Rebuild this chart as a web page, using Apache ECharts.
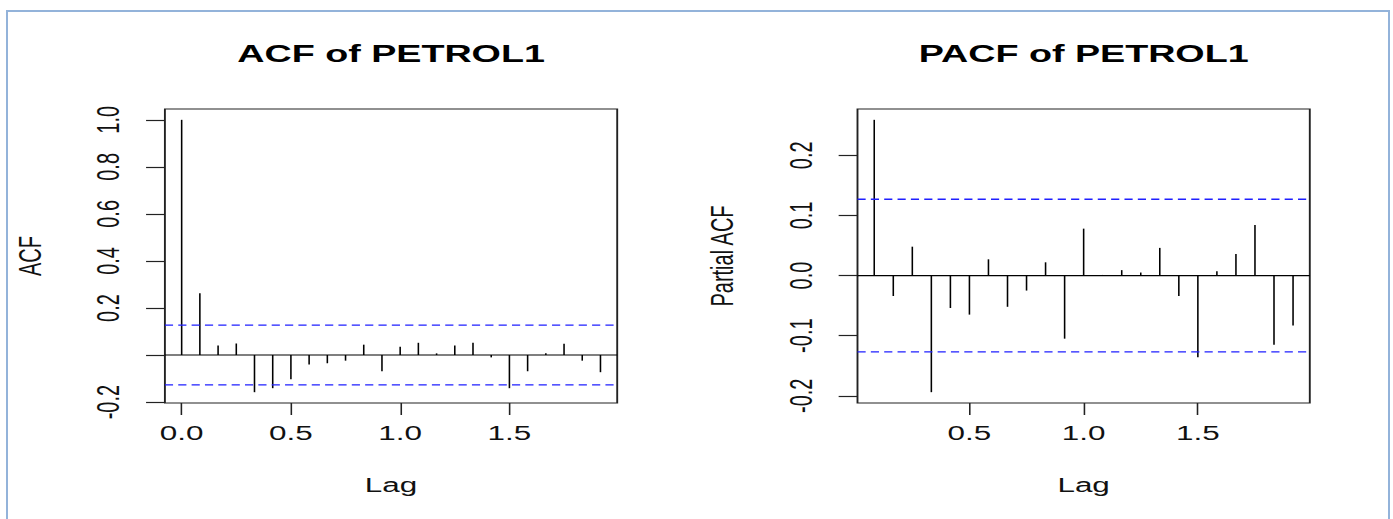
<!DOCTYPE html>
<html>
<head>
<meta charset="utf-8">
<script src="https://cdn.jsdelivr.net/npm/echarts@6/dist/echarts.min.js"></script>
<style>
  html, body { margin: 0; padding: 0; background: #ffffff; overflow: hidden; }
  #frame { position: absolute; left: 6px; top: 10px; width: 1380px; height: 520px;
           border-top: 2px solid #93b3da; border-left: 2px solid #93b3da; border-right: 2px solid #93b3da; }
  /* the reference is an R plot stretched horizontally; reproduce by scaling the chart box */
  #main { position: absolute; left: 0; top: 0; width: 887px; height: 519px;
          transform: scaleX(1.5705); transform-origin: 0 0; }
</style>
</head>
<body>
<div id="frame"></div>
<div id="main"></div>
<script>
// ---- data ----
const acfLags = [0.0000, 0.0833, 0.1667, 0.2500, 0.3333, 0.4167, 0.5000, 0.5833, 0.6667, 0.7500, 0.8333, 0.9167,
                 1.0000, 1.0833, 1.1667, 1.2500, 1.3333, 1.4167, 1.5000, 1.5833, 1.6667, 1.7500, 1.8333, 1.9167];
const acfValues = [1.000, 0.263, 0.040, 0.049, -0.158, -0.141, -0.103, -0.040, -0.035, -0.024, 0.044, -0.069,
                   0.035, 0.052, 0.007, 0.040, 0.052, -0.010, -0.141, -0.069, 0.007, 0.048, -0.024, -0.073];
const pacfLags = [0.0833, 0.1667, 0.2500, 0.3333, 0.4167, 0.5000, 0.5833, 0.6667, 0.7500, 0.8333, 0.9167,
                  1.0000, 1.0833, 1.1667, 1.2500, 1.3333, 1.4167, 1.5000, 1.5833, 1.6667, 1.7500, 1.8333, 1.9167];
const pacfValues = [0.259, -0.034, 0.048, -0.194, -0.054, -0.065, 0.027, -0.052, -0.025, 0.022, -0.105,
                    0.078, 0.001, 0.009, 0.005, 0.046, -0.034, -0.136, 0.007, 0.036, 0.084, -0.115, -0.083];
const ciBound = 0.127;

const acfXRange = [-0.0767, 1.9933];
const acfYRange = [-0.204, 1.046];
const pacfXRange = [0.0100, 1.9900];
const pacfYRange = [-0.212, 0.277];

const acfXTicks = [0, 0.5, 1.0, 1.5];
const acfXLabels = ['0.0', '0.5', '1.0', '1.5'];
const acfYTicks = [-0.2, 0, 0.2, 0.4, 0.6, 0.8, 1.0];
const acfYLabels = ['-0.2', '', '0.2', '0.4', '0.6', '0.8', '1.0'];
const pacfXTicks = [0.5, 1.0, 1.5];
const pacfXLabels = ['0.5', '1.0', '1.5'];
const pacfYTicks = [-0.2, -0.1, 0, 0.1, 0.2];
const pacfYLabels = ['-0.2', '-0.1', '0.0', '0.1', '0.2'];

const titles = ['ACF of PETROL1', 'PACF of PETROL1'];
const xNames = ['Lag', 'Lag'];
const yNames = ['ACF', 'Partial ACF'];

// ---- helpers ----
const FONT = '"Liberation Sans", Arial, sans-serif';
const CI_COLOR = '#1f1fff';
const CI_DASH = [5.2, 3.3];
function labelFor(ticks, labels) {
  return function (v) {
    const i = ticks.findIndex(t => Math.abs(t - v) < 1e-9);
    return i >= 0 ? labels[i] : '';
  };
}
function xAxisDef(gridIndex, range, ticks, labels, name) {
  return {
    type: 'value', gridIndex, min: range[0], max: range[1],
    name, nameLocation: 'middle', nameGap: 72,
    nameTextStyle: { fontFamily: FONT, fontSize: 20, color: '#111' },
    axisLine: { show: false, onZero: false },
    splitLine: { show: false },
    axisTick: { show: true, inside: false, length: 12, customValues: ticks, lineStyle: { color: '#222', width: 1 } },
    axisLabel: { show: true, margin: 20, customValues: ticks, formatter: labelFor(ticks, labels),
                 fontFamily: FONT, fontSize: 20, color: '#111' }
  };
}
function yAxisDef(gridIndex, range, ticks, labels, name) {
  return {
    type: 'value', gridIndex, min: range[0], max: range[1],
    name, nameLocation: 'middle', nameGap: 76, nameRotate: 90,
    nameTextStyle: { fontFamily: FONT, fontSize: 20, color: '#111' },
    axisLine: { show: false, onZero: false },
    splitLine: { show: false },
    axisTick: { show: true, inside: false, length: 12, customValues: ticks, lineStyle: { color: '#222', width: 1.2 } },
    axisLabel: { show: true, margin: 26, rotate: 90, customValues: ticks, formatter: labelFor(ticks, labels),
                 fontFamily: FONT, fontSize: 20, color: '#111' }
  };
}
function hLine(axisIdx, xRange, yValue, color, width, type) {
  return {
    type: 'line', xAxisIndex: axisIdx, yAxisIndex: axisIdx, silent: true,
    symbol: 'none', showSymbol: false, z: 3,
    lineStyle: { color, width, type },
    itemStyle: { color },
    emphasis: { disabled: true },
    data: [[xRange[0], yValue], [xRange[1], yValue]]
  };
}
function spikes(axisIdx, lags, values) {
  return {
    type: 'bar', xAxisIndex: axisIdx, yAxisIndex: axisIdx, barWidth: 1, silent: true, z: 2,
    itemStyle: { color: '#000' },
    emphasis: { disabled: true },
    data: lags.map((l, i) => [l, values[i]])
  };
}

const chart = echarts.init(document.getElementById('main'), null, { renderer: 'svg' });
chart.setOption({
  animation: false,
  backgroundColor: 'transparent',
  tooltip: { show: false },
  grid: [
    { left: 105, top: 109, width: 288, height: 294, show: true, borderColor: '#222', borderWidth: 1.2, backgroundColor: 'transparent' },
    { left: 546, top: 109, width: 288, height: 294, show: true, borderColor: '#222', borderWidth: 1.2, backgroundColor: 'transparent' }
  ],
  xAxis: [
    xAxisDef(0, acfXRange, acfXTicks, acfXLabels, xNames[0]),
    xAxisDef(1, pacfXRange, pacfXTicks, pacfXLabels, xNames[1])
  ],
  yAxis: [
    yAxisDef(0, acfYRange, acfYTicks, acfYLabels, yNames[0]),
    yAxisDef(1, pacfYRange, pacfYTicks, pacfYLabels, yNames[1])
  ],
  graphic: [
    { type: 'text', x: 249, y: 53.5, silent: true,
      style: { text: titles[0], fontFamily: FONT, fontSize: 24, fontWeight: 'bold', fill: '#000',
               textAlign: 'center', textVerticalAlign: 'middle' } },
    { type: 'text', x: 690, y: 53.5, silent: true,
      style: { text: titles[1], fontFamily: FONT, fontSize: 24, fontWeight: 'bold', fill: '#000',
               textAlign: 'center', textVerticalAlign: 'middle' } }
  ],
  series: [
    spikes(0, acfLags, acfValues),
    hLine(0, acfXRange, 0, '#000', 1.2, 'solid'),
    hLine(0, acfXRange, ciBound, CI_COLOR, 1.4, CI_DASH),
    hLine(0, acfXRange, -ciBound, CI_COLOR, 1.4, CI_DASH),
    spikes(1, pacfLags, pacfValues),
    hLine(1, pacfXRange, 0, '#000', 1.2, 'solid'),
    hLine(1, pacfXRange, ciBound, CI_COLOR, 1.4, CI_DASH),
    hLine(1, pacfXRange, -ciBound, CI_COLOR, 1.4, CI_DASH)
  ]
});
</script>
</body>
</html>
